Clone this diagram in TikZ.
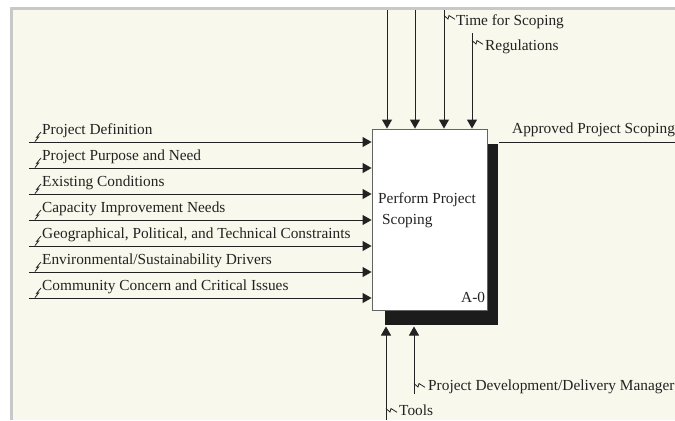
\documentclass[tikz,border=0pt]{standalone}
\usepackage{fontspec}
\setmainfont{Liberation Serif}
\usetikzlibrary{arrows.meta}
\definecolor{paper}{HTML}{F8F8EC}
\definecolor{framegray}{HTML}{C8C8C8}
\definecolor{ink}{HTML}{222222}
\definecolor{boxshadow}{HTML}{1C1C1C}
\tikzset{
  flow/.style={draw=ink, line width=0.9bp},
  arr/.style={flow, -{Triangle[length=9bp,width=10bp]}},
  lbl/.style={anchor=base west, inner sep=0pt, text=ink, font=\fontsize{15.4}{18}\selectfont},
  squig/.style={draw=ink, line width=0.8bp, line join=miter},
  act/.style={draw=ink!70, line width=0.9bp, fill=white, minimum width=115bp, minimum height=181bp, inner sep=0pt}
}
\begin{document}
\begin{tikzpicture}[x=1bp, y=-1bp]
\useasboundingbox (0,0) rectangle (675,420);
% sheet and frame
\fill[white] (0,0) rectangle (675,420);
\fill[framegray] (10,7) rectangle (675,420);
\fill[paper] (13,10) rectangle (675,420);

% activity box with its shadow
\fill[boxshadow] (385,144) rectangle (498,325);
\node[act] (box) at (429.5,219.5) {};
\node[lbl] (t1) at (378,203) {Perform Project};
\node[lbl] (t2) at (382,224.5) {Scoping};
\node[lbl] (code) at (461,302.5) {A-0};

% inputs
\foreach \i/\y/\txt in {1/142/{Project Definition},
                        2/168/{Project Purpose and Need},
                        3/194/{Existing Conditions},
                        4/220/{Capacity Improvement Needs},
                        5/246/{Geographical, Political, and Technical Constraints},
                        6/272/{Environmental/Sustainability Drivers},
                        7/298/{Community Concern and Critical Issues}}{
  \coordinate (in\i) at (29,\y);
  \draw[arr] (in\i) -- (in\i -| box.west);
  \node[lbl] (inl\i) at (42,\y-8) {\txt};
  \coordinate (sq\i) at (35,\y-0.5);
  \draw[squig] (sq\i) -- ++(3.6,-4.5) -- ++(-2,0.3) -- ++(4.4,-5.3);
}

% controls
\coordinate (c1) at (387,10);
\coordinate (c2) at (415,10);
\coordinate (c3) at (444,10);
\coordinate (c4) at (472,33);
\foreach \c in {c1,c2,c3,c4}{\draw[arr] (\c) -- (\c |- box.north);}
\node[lbl] (ctime) at (456,25.5) {Time for Scoping};
\node[lbl] (creg) at (485,50) {Regulations};
\coordinate (sqc3) at (444,15.5);
\coordinate (sqc4) at (472,40.5);
\foreach \s in {sqc3,sqc4}{\draw[squig] (\s) -- ++(4,3.5) -- ++(1,-3.5) -- ++(6,3.8);}

% output
\coordinate (o1) at (499,142);
\coordinate (oend) at (675,142);
\draw[flow] (o1) -- (oend);
\node[lbl] (olbl) at (512,133.5) {Approved Project Scoping};

% mechanisms
\coordinate (m1) at (386,420);
\coordinate (m2) at (414,394);
\coordinate (mtip) at (400,326.5);
\draw[arr] (m1) -- (m1 |- mtip);
\draw[arr] (m2) -- (m2 |- mtip);
\node[lbl] (mman) at (428,390) {Project Development/Delivery Manager};
\node[lbl] (mtools) at (399,415) {Tools};
\coordinate (sqm1) at (386,408.5);
\coordinate (sqm2) at (414,383.5);
\foreach \s in {sqm1,sqm2}{\draw[squig] (\s) -- ++(4,3.5) -- ++(1,-3.5) -- ++(6,3.8);}
\end{tikzpicture}
\end{document}
